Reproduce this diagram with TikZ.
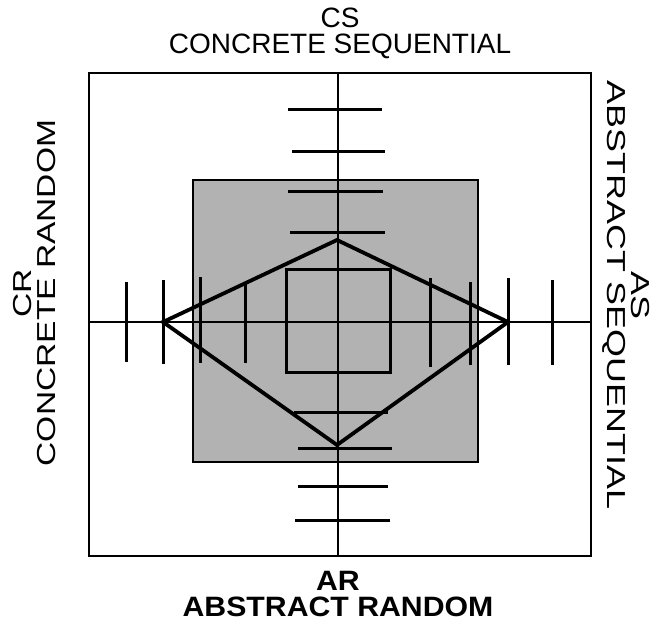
\documentclass[tikz,border=0pt]{standalone}
\usepackage{fontspec}
\setmainfont{Liberation Sans}
\newfontfamily\leftfont[FakeStretch=1.29]{Liberation Sans}
\newfontfamily\rightfont[FakeStretch=1.38]{Liberation Sans}
\newfontfamily\botfont[FakeStretch=1.08]{Liberation Sans}
\begin{document}
\begin{tikzpicture}[x=1pt,y=-1pt,
  frame/.style={line width=2.4pt},
  axisline/.style={line width=2.4pt},
  tickline/.style={line width=3pt},
  diam/.style={line width=3.8pt, line join=miter},
  toplbl/.style={font=\fontsize{28}{28}\selectfont, inner sep=0pt, anchor=base},
  botlbl/.style={font=\fontsize{28}{28}\botfont\bfseries, inner sep=0pt, anchor=base},
  leftlbl/.style={font=\fontsize{26}{26}\leftfont, inner sep=0pt, anchor=base, rotate=90},
  rightlbl/.style={font=\fontsize{26}{26}\rightfont, inner sep=0pt, anchor=base, rotate=-90}]
\useasboundingbox (0,0) rectangle (670,634);
% shaded square
\fill[black!30] (193,180) rectangle (478,462);
\draw[line width=1.8pt] (193,180) rectangle (478,462);
% outer frame and axes
\draw[frame] (89,73) rectangle (591,556);
\draw[axisline] (338,73) -- (338,556);
\draw[axisline] (89,322) -- (591,322);
% ticks on vertical axis
\foreach \y/\a/\b in {110/288/382,151/292/385,191/288/383,232/290/385,412/294/388,448/298/392,486/298/388,520/295/390}
  \draw[tickline] (\a,\y) -- (\b,\y);
% ticks on horizontal axis
\foreach \x/\a/\b in {126/282/362,163/280/364,200/277/363,245/283/363,430/278/367,470/282/365,508/278/365,552/280/365}
  \draw[tickline] (\x,\a) -- (\x,\b);
% inner square
\draw[tickline] (286,269) rectangle (390,372);
% diamond
\draw[diam] (163,322) -- (337,240) -- (508,322) -- (337,445) -- cycle;
% labels
\node[toplbl] (cs) at (340,28) {CS};
\node[toplbl] (csl) at (340,54) {CONCRETE SEQUENTIAL};
\node[botlbl] (ar) at (338,590) {AR};
\node[botlbl] (arl) at (338,616) {ABSTRACT RANDOM};
\node[leftlbl] (cr) at (31,293) {CR};
\node[leftlbl] (crl) at (55,293) {CONCRETE RANDOM};
\node[rightlbl] (as) at (631,295) {AS};
\node[rightlbl] (asl) at (607,295) {ABSTRACT SEQUENTIAL};
\end{tikzpicture}
\end{document}
